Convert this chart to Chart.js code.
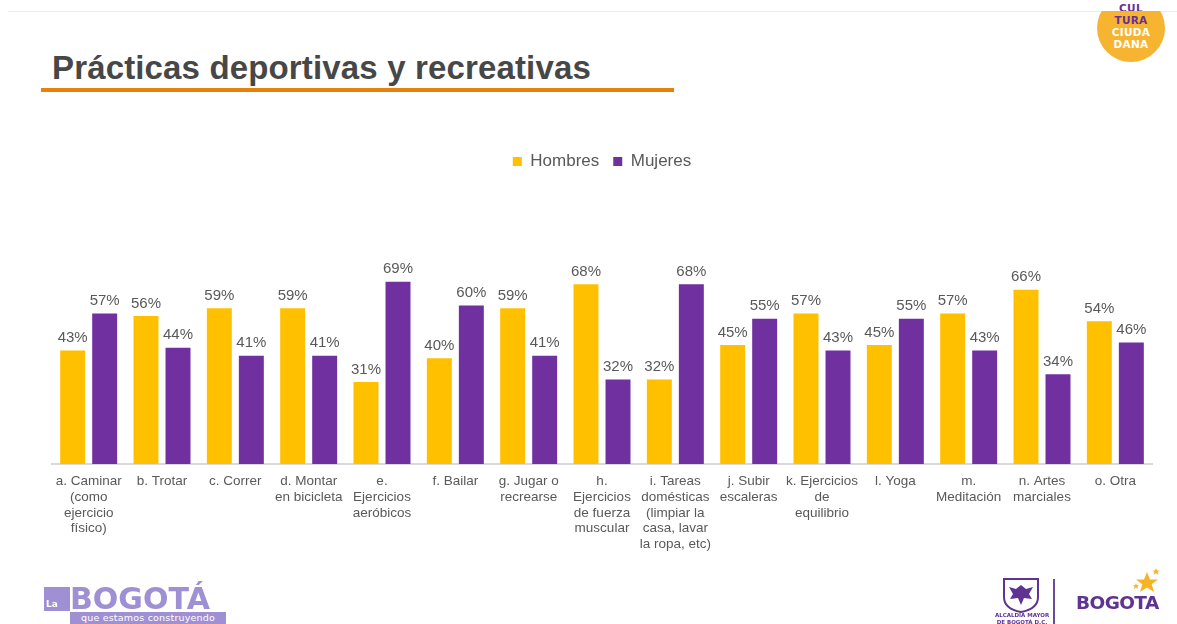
<!DOCTYPE html>
<html lang="es">
<head>
<meta charset="utf-8">
<title>Prácticas deportivas y recreativas</title>
<script src="https://cdn.jsdelivr.net/npm/chart.js@4.4.1/dist/chart.umd.min.js"></script>
<style>
  html, body { margin: 0; padding: 0; background: #fff; }
  body { width: 1177px; height: 624px; position: relative; overflow: hidden; font-family: "Liberation Sans", Arial, sans-serif; }
  #chart { position: absolute; left: 0; top: 0; }
  .topline { position: absolute; left: 8px; right: 0; top: 11px; height: 1px; background: #ececec; }
  .badge { position: absolute; left: 1097px; top: -6px; width: 68px; height: 68px; border-radius: 50%; background: #f7b431; }
  .badge-mask { position: absolute; left: 1080px; top: 0; width: 97px; height: 11px; background: #fff; }
  .badge-text { position: absolute; left: 1097px; width: 68px; text-align: center; font: bold 10.5px "DejaVu Sans", sans-serif; line-height: 12px; letter-spacing: 0.3px; }
  h1 { position: absolute; left: 52px; top: 51px; margin: 0; font: bold 33px "Liberation Sans", Arial, sans-serif; line-height: 33px; color: #474747; letter-spacing: 0.15px; white-space: nowrap; }
  .rule { position: absolute; left: 41px; top: 88px; width: 633px; height: 3.5px; background: #e8800e; }
  .lb { position: absolute; left: 44px; top: 585px; height: 27px; font: bold 30px "DejaVu Sans", sans-serif; color: #9f8fd3; line-height: 27px; }
  .lb .la { display: inline-block; background: #9f8fd3; color: #fff; font-size: 9px; width: 26px; height: 24px; line-height: 34px; vertical-align: top; margin-top: 2px; text-align: left; padding-left: 2px; box-sizing: border-box; }
  .lb-sub { position: absolute; left: 70px; top: 612px; width: 156px; height: 12px; background: #9f8fd3; color: #fff; font: 9.5px "DejaVu Sans", sans-serif; line-height: 12px; text-align: center; letter-spacing: 0.2px; }
  .sep { position: absolute; left: 1053px; top: 579px; width: 1.5px; height: 45px; background: #6b4a9a; }
  .bogota { position: absolute; left: 1076px; top: 592px; font: bold 18.5px "DejaVu Sans", sans-serif; color: #5e3391; letter-spacing: -0.6px; }
  .crest { position: absolute; left: 1000px; top: 577px; }
  .alc { position: absolute; left: 990px; top: 612px; width: 64px; text-align: center; font: bold 5.5px "DejaVu Sans", sans-serif; color: #5e3391; line-height: 7px; }
</style>
</head>
<body>
<div class="topline"></div>
<div class="badge"></div>
<div class="badge-mask"></div>
<div class="badge-text" style="top:14px;color:#6a2f95;">TURA</div>
<div class="badge-text" style="top:26px;color:#fff;">CIUDA</div>
<div class="badge-text" style="top:38px;color:#fff;">DANA</div>
<div class="badge-text" style="top:2px;color:#6a2f95;height:9px;overflow:hidden;">CUL</div>

<h1>Prácticas deportivas y recreativas</h1>
<div class="rule"></div>

<canvas id="chart" width="1177" height="624"></canvas>

<div class="lb"><span class="la">La</span>BOGOTÁ</div>
<div class="lb-sub">que estamos construyendo</div>

<svg class="crest" width="42" height="36" viewBox="0 0 42 36">
  <path d="M4 2 H38 V20 Q38 32 21 35 Q4 32 4 20 Z" fill="none" stroke="#5e3391" stroke-width="2"/>
  <path d="M21 8 L26 12 L33 10 L29 17 L32 22 L24 21 L21 28 L18 21 L10 22 L13 17 L9 10 L16 12 Z" fill="#5e3391"/>
</svg>
<div class="alc">ALCALDÍA MAYOR<br>DE BOGOTÁ D.C.</div>
<div class="sep"></div>
<div class="bogota">BOGOTA</div>
<svg style="position:absolute;left:1130px;top:566px" width="36" height="30" viewBox="0 0 36 30">
  <polygon points="17,6 20,13.5 28,13.5 21.7,18.3 24,26 17,21.5 10,26 12.3,18.3 6,13.5 14,13.5" fill="#f6b324"/>
  <polygon points="26,2 27,4.5 29.8,4.5 27.6,6.1 28.4,8.8 26,7.2 23.6,8.8 24.4,6.1 22.2,4.5 25,4.5" fill="#f6b324"/>
  <polygon points="6,17 6.9,19.2 9.2,19.2 7.4,20.6 8.1,23 6,21.6 3.9,23 4.6,20.6 2.8,19.2 5.1,19.2" fill="#f6b324"/>
</svg>

<script>
// Categorías (eje X) y porcentajes por sexo
const categorias = [
  ["a. Caminar", "(como", "ejercicio", "físico)"],
  ["b. Trotar"],
  ["c. Correr"],
  ["d. Montar", "en bicicleta"],
  ["e.", "Ejercicios", "aeróbicos"],
  ["f. Bailar"],
  ["g. Jugar o", "recrearse"],
  ["h.", "Ejercicios", "de fuerza", "muscular"],
  ["i. Tareas", "domésticas", "(limpiar la", "casa, lavar", "la ropa, etc)"],
  ["j. Subir", "escaleras"],
  ["k. Ejercicios", "de", "equilibrio"],
  ["l. Yoga"],
  ["m.", "Meditación"],
  ["n. Artes", "marciales"],
  ["o. Otra"]
];
const hombres = [43, 56, 59, 59, 31, 40, 59, 68, 32, 45, 57, 45, 57, 66, 54];
const mujeres = [57, 44, 41, 41, 69, 60, 41, 32, 68, 55, 43, 55, 43, 34, 46];

const AMARILLO = "#FFC000";
const MORADO = "#7030A0";
const GRIS_TEXTO = "#595959";

// Etiqueta de valor encima de cada barra
const etiquetasValor = {
  id: "etiquetasValor",
  afterDatasetsDraw(chart) {
    const ctx = chart.ctx;
    ctx.save();
    ctx.font = "15px 'Liberation Sans', Arial, sans-serif";
    ctx.fillStyle = GRIS_TEXTO;
    ctx.textAlign = "center";
    ctx.textBaseline = "bottom";
    chart.data.datasets.forEach((ds, i) => {
      chart.getDatasetMeta(i).data.forEach((bar, j) => {
        ctx.fillText(ds.data[j] + "%", bar.x, bar.y - 5);
      });
    });
    ctx.restore();
  }
};

new Chart(document.getElementById("chart"), {
  type: "bar",
  data: {
    labels: categorias,
    datasets: [
      { label: "Hombres", data: hombres, backgroundColor: AMARILLO },
      { label: "Mujeres", data: mujeres, backgroundColor: MORADO }
    ]
  },
  options: {
    responsive: false,
    animation: false,
    events: [],
    layout: { padding: { left: 52, right: 25, top: 139, bottom: 60 } },
    datasets: { bar: { categoryPercentage: 0.873, barPercentage: 0.78 } },
    plugins: {
      tooltip: { enabled: false },
      legend: {
        position: "top",
        labels: {
          color: GRIS_TEXTO,
          font: { size: 17, family: "'Liberation Sans', Arial, sans-serif" },
          boxWidth: 9,
          boxHeight: 9,
          padding: 14
        }
      }
    },
    scales: {
      x: {
        grid: { display: false },
        border: { display: true, color: "#d9d9d9", width: 2 },
        afterFit(scale) { scale.height = 100; },
        ticks: {
          color: GRIS_TEXTO,
          font: { size: 13.5, family: "'Liberation Sans', Arial, sans-serif", lineHeight: 1.15 },
          maxRotation: 0,
          autoSkip: false,
          padding: 2
        }
      },
      y: {
        display: false,
        min: 0,
        max: 107.5
      }
    }
  },
  plugins: [etiquetasValor]
});
</script>
</body>
</html>
